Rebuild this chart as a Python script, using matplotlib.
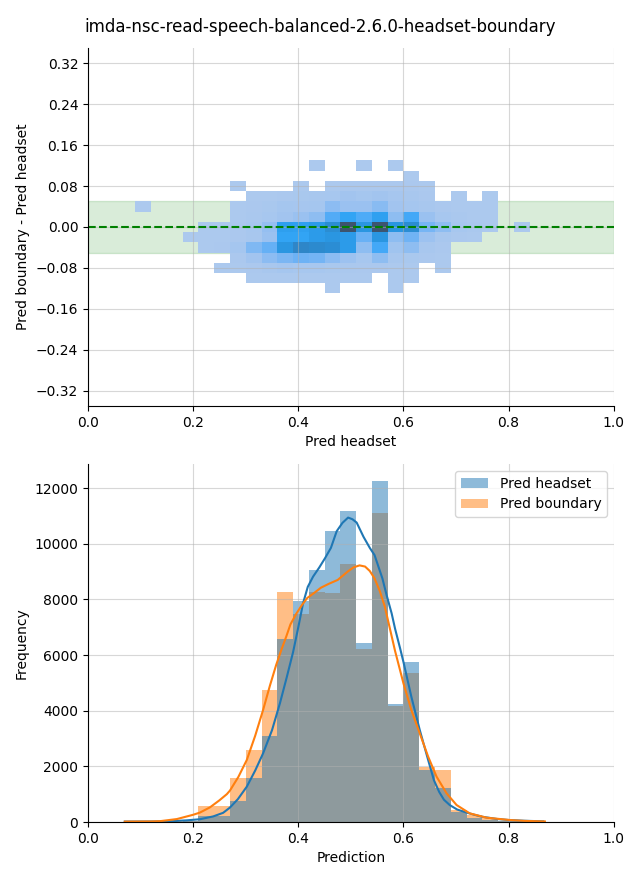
import numpy as np
import matplotlib
matplotlib.use("Agg")
import matplotlib.pyplot as plt
from matplotlib.colors import ListedColormap, to_rgba
from matplotlib.patches import Patch

title = "imda-nsc-read-speech-balanced-2.6.0-headset-boundary"

# ---------------- 2D histogram (Pred headset vs boundary - headset) ----------------
hm_x_start, hm_x_width, hm_nx = 0.09, 0.03, 25
hm_y_start, hm_y_height, hm_ny = -0.13, 0.02, 13
# rows from top (diff = 0.12) to bottom (diff = -0.12); columns from x = 0.09 to 0.81 (left edges)
hm_rows_top_to_bottom = [
    [0,0,0,0,0,0,0,0,0,0,0,3,0,0,3,0,3,0,0,0,0,0,0,0,0],                                   # 0.12
    [0,0,0,0,0,0,0,0,0,0,0,0,0,0,0,0,0,2,0,0,0,0,0,0,0],                                   # 0.10
    [0,0,0,0,0,0,3,0,0,0,5,0,20,40,35,40,30,25,10,0,0,0,0,0,0],                            # 0.08
    [0,0,0,0,0,0,0,10,20,40,60,80,100,200,150,200,120,80,40,0,5,0,5,0,0],                  # 0.06
    [1,0,0,0,0,0,15,30,60,150,120,150,600,350,350,650,200,150,80,40,20,10,5,0,0],          # 0.04
    [0,0,0,0,0,0,20,50,100,200,350,550,1350,1700,1400,1850,550,1500,350,100,50,20,10,0,0], # 0.02
    [0,0,0,0,10,20,40,100,450,1900,1850,2050,2650,5000,2250,4950,2250,2650,900,550,100,50,20,0,2],  # 0.00
    [0,0,0,3,8,20,40,80,350,1700,1700,2050,2250,2050,1100,2250,550,1000,300,80,30,10,0,0,0],  # -0.02
    [0,0,0,0,10,30,150,800,1150,2250,2900,2750,2600,2050,550,1500,250,550,80,30,0,0,0,0,0], # -0.04
    [0,0,0,0,0,0,40,200,600,850,1050,950,600,300,100,550,80,60,30,10,0,0,0,0,0],           # -0.06
    [0,0,0,0,0,5,15,40,80,150,100,100,60,50,40,40,20,15,0,5,0,0,0,0,0],                   # -0.08
    [0,0,0,0,0,0,0,5,10,15,20,15,15,10,8,0,5,3,0,0,0,0,0,0,0],                             # -0.10
    [0,0,0,0,0,0,0,0,0,0,0,0,2,0,0,0,2,0,0,0,0,0,0,0,0],                                   # -0.12
]
band_low, band_high = -0.05, 0.05
diff_yticks = [-0.32, -0.24, -0.16, -0.08, 0.0, 0.08, 0.16, 0.24, 0.32]

# ---------------- 1D histograms ----------------
hist_start, hist_width = 0.06, 0.03
headset_counts = [3, 5, 8, 12, 20, 205, 215, 754, 1581, 3090, 6575, 7941, 9054, 10456,
                  11174, 6420, 12252, 4230, 5737, 1870, 1233, 350, 156, 77, 45, 20, 8]
boundary_counts = [3, 6, 10, 25, 40, 575, 575, 1569, 2587, 4743, 8264, 7473, 8264, 8228,
                   9270, 6216, 11114, 4180, 5353, 1980, 1868, 430, 251, 132, 50, 25, 10]

# KDE curves (scaled to counts)
kde_headset_x = [0.070, 0.12, 0.16, 0.188, 0.213, 0.238, 0.257, 0.270, 0.285, 0.302, 0.318,
                 0.333, 0.350, 0.365, 0.378, 0.390, 0.400, 0.409, 0.418, 0.428, 0.440, 0.4506,
                 0.462, 0.473, 0.484, 0.4947, 0.503, 0.511, 0.524, 0.536, 0.545, 0.552, 0.560,
                 0.568, 0.5775, 0.584, 0.5935, 0.600, 0.615, 0.631, 0.647, 0.658, 0.668, 0.677,
                 0.688, 0.702, 0.7186, 0.735, 0.749, 0.778, 0.80, 0.83, 0.866]
kde_headset_y = [15, 18, 30, 60, 100, 200, 330, 520, 820, 1269, 1850,
                 2467, 3300, 4264, 5200, 6100, 7000, 7857, 8450, 8815, 9150, 9474,
                 9850, 10450, 10750, 10940, 10880, 10760, 10250, 9850, 9593, 9200, 8750,
                 8150, 7500, 6950, 6250, 5750, 4504, 3306, 2228, 1500, 1080, 800,
                 610, 450, 347, 260, 191, 108, 72, 45, 24]
kde_boundary_x = [0.070, 0.12, 0.137, 0.169, 0.20, 0.213, 0.232, 0.25, 0.264, 0.270, 0.286,
                  0.302, 0.318, 0.333, 0.346, 0.358, 0.368, 0.377, 0.385, 0.396, 0.407, 0.417,
                  0.43, 0.443, 0.458, 0.475, 0.494, 0.505, 0.5165, 0.527, 0.536, 0.545, 0.555,
                  0.5646, 0.573, 0.584, 0.600, 0.615, 0.631, 0.647, 0.663, 0.682, 0.701, 0.726,
                  0.758, 0.802, 0.83, 0.869]
kde_boundary_y = [15, 20, 30, 106, 260, 340, 527, 780, 1000, 1130, 1620,
                  2228, 3100, 4024, 4900, 5650, 6200, 6660, 7100, 7480, 7800, 8050,
                  8230, 8420, 8560, 8700, 9000, 9150, 9222, 9180, 9020, 8755, 8300,
                  7737, 7050, 6150, 4982, 4024, 3186, 2347, 1629, 1031, 611, 311,
                  156, 72, 40, 20]


def cmap_from_color(color):
    from seaborn.external import husl
    r, g, b, _ = to_rgba(color)
    h, s, _ = husl.rgb_to_husl(r, g, b)
    xx = np.linspace(-1, 1, int(1.15 * 256))[:256]
    ramp = np.zeros((256, 3))
    ramp[:, 0] = h
    ramp[:, 1] = s * np.cos(xx)
    ramp[:, 2] = np.linspace(35, 80, 256)
    colors = np.clip([husl.husl_to_rgb(*hsl) for hsl in ramp], 0, 1)
    return ListedColormap(colors[::-1])


C0 = "#1f77b4"
C1 = "#ff7f0e"

fig = plt.figure(figsize=(6.4, 8.8), dpi=100)
ax1 = fig.add_axes([0.1375, 0.5386, 0.8215, 0.4069])
ax2 = fig.add_axes([0.1375, 0.0659, 0.8215, 0.4068])

# ---- top: 2D histogram ----
x_edges = hm_x_start + hm_x_width * np.arange(hm_nx + 1)
y_edges = hm_y_start + hm_y_height * np.arange(hm_ny + 1)
counts = np.array(hm_rows_top_to_bottom[::-1], dtype=float)
counts = np.ma.masked_less_equal(counts, 0)
ax1.pcolormesh(x_edges, y_edges, counts, cmap=cmap_from_color(C0), zorder=1)
ax1.axhspan(band_low, band_high, color="green", alpha=0.15, zorder=0.9)
ax1.axhline(0, color="green", linestyle="--", linewidth=1.5, zorder=2)
ax1.set_xlim(0, 1)
ax1.set_ylim(-0.35, 0.35)
ax1.set_yticks(diff_yticks)
ax1.grid(True, alpha=0.5)
ax1.set_xlabel("Pred headset")
ax1.set_ylabel("Pred boundary - Pred headset")
for sp in ("top", "right"):
    ax1.spines[sp].set_visible(False)

# ---- bottom: histograms + KDE ----
lefts = hist_start + hist_width * np.arange(len(headset_counts))
ax2.bar(lefts, boundary_counts, width=hist_width, align="edge", color=C1, alpha=0.5,
        linewidth=0, zorder=1)
ax2.bar(lefts, headset_counts, width=hist_width, align="edge", color=C0, alpha=0.5,
        linewidth=0, zorder=1)
ax2.plot(kde_headset_x, kde_headset_y, color=C0, linewidth=1.5, zorder=2)
ax2.plot(kde_boundary_x, kde_boundary_y, color=C1, linewidth=1.5, zorder=2)
ax2.set_xlim(0, 1)
ax2.grid(True, alpha=0.5)
ax2.set_xlabel("Prediction")
ax2.set_ylabel("Frequency")
for sp in ("top", "right"):
    ax2.spines[sp].set_visible(False)
handles = [Patch(facecolor=C0, alpha=0.5, linewidth=0), Patch(facecolor=C1, alpha=0.5, linewidth=0)]
ax2.legend(handles, ["Pred headset", "Pred boundary"], loc="upper right")

fig.suptitle(title, fontsize=12)
fig.savefig("out.png", dpi=100)
